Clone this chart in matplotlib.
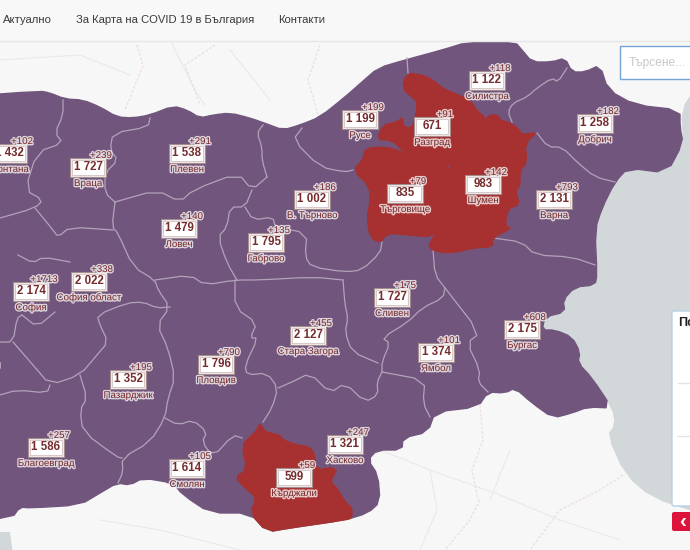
import matplotlib
matplotlib.use("Agg")
import matplotlib.pyplot as plt
from matplotlib.patches import Polygon, Rectangle, FancyBboxPatch
import matplotlib.patheffects as pe

plt.rcParams['font.family'] = ['Liberation Sans', 'DejaVu Sans']

# Province data
NAMES = ['Монтана', 'Враца', 'Плевен', 'Ловеч', 'Габрово', 'В. Търново', 'Русе', 'Силистра',
         'Разград', 'Добрич', 'Търговище', 'Шумен', 'Варна', 'Сливен', 'Бургас', 'Ямбол',
         'Стара Загора', 'Пловдив', 'Пазарджик', 'Благоевград', 'Смолян', 'Кърджали',
         'Хасково', 'София', 'София област']
TOTALS = [1432, 1727, 1538, 1479, 1795, 1002, 1199, 1122, 671, 1258, 835, 983, 2131, 1727,
          2175, 1374, 2127, 1796, 1352, 1586, 1614, 599, 1321, 2174, 2022]
NEW = [102, 239, 291, 140, 135, 186, 199, 118, 91, 182, 79, 142, 793, 175, 608, 101, 455,
       790, 195, 257, 105, 59, 247, 1713, 338]
LABEL_POS = [(9, 153), (88, 167), (187, 153), (179, 228), (266, 242), (312, 199), (360, 119),
             (487, 80), (432, 126), (595, 123), (405, 193), (483, 184), (554, 199), (392, 297),
             (522, 329), (436, 352), (308, 335), (216, 364), (128, 379), (46, 447), (187, 468),
             (294, 477), (345, 444), (31, 291), (89, 281)]

# Map geometry (screen pixels)
BULGARIA = [(-40, 97), (40, 91), (50, 93), (65, 99), (83, 100), (100, 107), (117, 117), (133, 118),
            (150, 115), (173, 106), (187, 110), (200, 118), (213, 115), (230, 113), (250, 118),
            (267, 124), (283, 130), (300, 125), (320, 117), (345, 97), (362, 82), (378, 68),
            (405, 60), (442, 50), (468, 42), (515, 42), (522, 50), (532, 62), (552, 62), (565, 58),
            (572, 72), (585, 72), (600, 65), (608, 90), (635, 105), (680, 110), (680, 127),
            (683, 143), (667, 173), (628, 168), (615, 182), (602, 208), (595, 230), (597, 275),
            (595, 285), (575, 287), (563, 300), (565, 312), (545, 317), (542, 330), (555, 330),
            (572, 337), (580, 352), (578, 363), (592, 378), (612, 408), (588, 407), (572, 413),
            (553, 418), (532, 403), (515, 388), (505, 393), (488, 392), (478, 407), (435, 412),
            (428, 432), (403, 438), (402, 450), (377, 450), (368, 460), (378, 475), (380, 502),
            (368, 513), (345, 520), (290, 528), (267, 532), (250, 513), (210, 513), (183, 495),
            (173, 483), (143, 478), (130, 485), (117, 483), (100, 493), (80, 505), (30, 508),
            (20, 507), (12, 518), (-40, 520)]
SEA = [(695, 88), (681, 110), (683, 143), (667, 173), (628, 168), (615, 182), (602, 208), (595, 230),
       (597, 275), (595, 285), (575, 287), (563, 300), (565, 312), (545, 317), (542, 330), (555, 330),
       (572, 337), (580, 352), (578, 363), (592, 378), (612, 408), (615, 425), (607, 435), (625, 475),
       (652, 498), (695, 512)]
SEA_SW = [(-5, 532), (10, 532), (13, 555), (-5, 555)]
RAZGRAD = [(407, 73), (422, 75), (433, 80), (442, 88), (458, 95), (470, 100), (478, 112), (485, 117),
           (485, 125), (462, 140), (458, 150), (450, 163), (438, 180), (422, 175), (418, 163), (405, 153),
           (392, 140), (377, 140), (383, 125), (397, 122), (403, 117), (403, 127), (413, 128), (418, 103),
           (413, 98), (402, 88)]
TARGOVISHTE = [(365, 148), (388, 147), (405, 153), (418, 163), (422, 175), (438, 180), (448, 167),
               (458, 168), (452, 187), (455, 200), (445, 213), (442, 227), (432, 237), (408, 235),
               (388, 233), (380, 243), (370, 237), (367, 217), (370, 203), (370, 187), (353, 170), (363, 160)]
SHUMEN = [(488, 115), (498, 115), (500, 120), (508, 122), (518, 128), (522, 135), (538, 132), (525, 143),
          (527, 163), (520, 170), (520, 187), (515, 190), (520, 205), (508, 208), (505, 227), (512, 228),
          (492, 238), (493, 247), (472, 248), (458, 252), (442, 253), (428, 248), (433, 237), (442, 227),
          (445, 213), (455, 200), (452, 187), (458, 168), (448, 167), (458, 150), (462, 140), (485, 125)]
KARDZHALI = [(260, 423), (265, 432), (280, 435), (283, 440), (297, 445), (310, 447), (315, 455), (315, 470),
             (338, 467), (330, 482), (337, 488), (345, 502), (352, 508), (352, 518), (345, 520), (290, 528),
             (267, 532), (250, 513), (257, 498), (245, 488), (235, 477), (247, 470), (242, 445), (250, 437),
             (257, 430)]
RED_REGIONS = [RAZGRAD, TARGOVISHTE, SHUMEN, KARDZHALI]
BORDERS = [
    [(63, 100), (63, 115), (55, 133), (63, 143), (37, 152), (25, 190), (43, 200), (35, 208), (0, 218)],
    [(150, 118), (148, 127), (113, 133), (110, 150), (118, 160), (105, 173), (105, 193), (115, 202)],
    [(35, 208), (53, 230), (58, 237), (70, 227), (113, 230)],
    [(115, 202), (157, 190), (180, 202), (193, 190), (238, 173), (252, 190), (267, 177)],
    [(267, 177), (262, 160), (262, 147), (257, 133), (263, 125)],
    [(115, 202), (112, 227), (118, 233), (133, 267), (155, 280), (158, 290), (170, 307), (157, 325),
     (168, 348), (175, 378), (168, 398), (165, 418), (150, 442), (122, 458), (123, 472), (118, 483)],
    [(155, 280), (190, 275), (205, 285), (235, 280), (260, 280), (313, 277), (343, 280)],
    [(252, 190), (245, 207), (230, 207), (227, 227), (218, 237), (227, 263), (237, 280)],
    [(245, 207), (253, 220), (273, 217), (275, 227), (307, 233), (305, 257), (312, 267), (345, 272),
     (362, 270), (380, 253), (382, 242)],
    [(235, 280), (235, 308), (257, 323), (250, 338), (258, 338), (245, 365), (247, 375), (267, 373),
     (278, 388), (272, 408), (263, 422)],
    [(278, 388), (292, 382), (310, 373), (330, 393), (345, 383), (365, 402), (378, 395), (377, 382), (382, 372)],
    [(382, 372), (425, 380), (423, 403), (430, 417)],
    [(488, 392), (478, 382), (480, 370), (467, 343), (480, 333), (445, 288), (435, 275), (433, 250)],
    [(382, 372), (382, 362), (390, 343), (382, 338), (408, 322), (422, 308), (443, 298), (445, 288)],
    [(343, 280), (345, 305), (348, 318), (345, 332), (352, 352), (378, 363)],
    [(353, 170), (345, 172), (320, 167), (293, 140), (302, 128)],
    [(407, 58), (408, 73)],
    [(567, 68), (558, 82), (552, 78), (537, 88), (527, 97), (513, 103), (508, 112), (512, 122)],
    [(537, 133), (548, 147), (562, 147), (578, 163), (595, 177), (615, 182)],
    [(493, 238), (522, 242), (535, 255), (572, 257), (595, 265)],
    [(18, 255), (33, 263), (43, 257), (70, 262)],
    [(22, 315), (37, 327), (55, 312)],
    [(13, 342), (33, 365), (50, 385), (80, 375), (97, 355), (108, 342), (100, 325), (97, 315), (127, 303),
     (143, 302), (157, 308), (170, 307)],
    [(80, 375), (87, 398), (80, 410), (83, 432), (117, 457), (122, 458)],
    [(0, 395), (17, 390), (47, 393), (50, 385)],
    [(165, 418), (178, 425), (193, 420), (207, 432), (202, 442), (213, 457), (233, 435), (242, 438)],
    [(0, 342), (13, 342), (17, 318), (22, 315)],
]
FRONTIERS = [[(137, 45), (143, 66), (125, 110)], [(215, 45), (185, 65), (200, 105)],
             [(320, 45), (308, 80), (318, 115)], [(480, 405), (483, 440), (472, 470), (478, 500)],
             [(623, 475), (600, 490), (560, 510), (530, 550)], [(480, 500), (470, 520), (445, 550)]]
ROADS = [[(170, 40), (195, 90), (205, 105)], [(0, 60), (80, 55), (130, 75)], [(230, 50), (270, 100)],
         [(380, 450), (430, 470), (500, 495), (560, 520), (620, 540)], [(430, 470), (437, 510), (420, 550)],
         [(100, 520), (160, 530), (240, 550)], [(510, 450), (490, 500)]]
NAV_ITEMS = ['Актуално', 'За Карта на COVID 19 в България', 'Контакти']
NAV_X = [3, 76, 278]


def round_corners(points, closed=False):
    """One pass of corner cutting, which gives the outlines their soft look."""
    pts = list(points) + ([points[0]] if closed else [])
    out = [] if closed else [pts[0]]
    for (x0, y0), (x1, y1) in zip(pts[:-1], pts[1:]):
        out.append((0.75 * x0 + 0.25 * x1, 0.75 * y0 + 0.25 * y1))
        out.append((0.25 * x0 + 0.75 * x1, 0.25 * y0 + 0.75 * y1))
    if not closed:
        out.append(pts[-1])
    return out


fig = plt.figure(figsize=(6.9, 5.5), dpi=100)
ax = fig.add_axes([0, 0, 1, 1])
ax.set_xlim(0, 690)
ax.set_ylim(550, 0)
ax.axis('off')
ax.add_patch(Rectangle((0, 0), 690, 550, fc='#f6f7f6', ec='none', zorder=0))
ax.add_patch(Polygon(round_corners(SEA), fc='#d2d7da', ec='none', zorder=1))
ax.add_patch(Polygon(SEA_SW, fc='#d2d7da', ec='none', zorder=1))
for r in ROADS:
    ax.plot(*zip(*r), color='#e8e9e8', lw=0.8, zorder=1)
for f in FRONTIERS:
    ax.plot(*zip(*f), color='#eedcde', lw=0.9, ls=(0, (2, 1.5)), zorder=1)

ax.add_patch(Polygon(round_corners(BULGARIA, closed=True), fc='#71557d', ec='#71557d', lw=1,
                     joinstyle='round', zorder=2))
for b in BORDERS:
    ax.plot(*zip(*round_corners(b)), color='#b3a3ba', lw=0.9, solid_joinstyle='round', zorder=3)
for region in RED_REGIONS:
    ax.add_patch(Polygon(round_corners(region, closed=True), fc='#a73130', ec='#a73130', lw=1,
                         joinstyle='round', zorder=4))

halo = [pe.withStroke(linewidth=2, foreground='#ffffff', alpha=0.75)]
TEXT_RED = '#762b2d'
for name, total, new, (x, y) in zip(NAMES, TOTALS, NEW, LABEL_POS):
    ax.add_patch(Rectangle((x - 18, y - 9.5), 36, 19, fc='#f3ecec', ec='#a58d8d', lw=0.8, zorder=5))
    ax.add_patch(Rectangle((x - 16, y - 7.5), 32, 15, fc='#ffffff', ec='#c9b6b6', lw=0.5, zorder=6))
    value = f'{total:,}'.replace(',', ' ')
    ax.text(x, y + 0.3, value, ha='center', va='center', fontsize=8.3, fontweight='bold',
            color=TEXT_RED, zorder=7)
    ax.text(x + 13, y - 12, f'+{new}', ha='center', va='center', fontsize=7, color=TEXT_RED,
            path_effects=halo, zorder=7)
    ax.text(x, y + 16, name, ha='center', va='center', fontsize=7, color=TEXT_RED,
            path_effects=halo, zorder=7)
ax.text(-25, 365, 'Кюстендил', ha='center', va='center', fontsize=7, color=TEXT_RED,
        path_effects=halo, clip_on=True, zorder=7)

# page chrome
ax.add_patch(Rectangle((0, 0), 690, 40.5, fc='#f8f8f8', ec='none', zorder=8))
ax.plot([0, 690], [40.5, 40.5], color='#e7e7e7', lw=1, zorder=8)
for label, x in zip(NAV_ITEMS, NAV_X):
    ax.text(x, 20, label, ha='left', va='center', fontsize=8.15, color='#3a3a3a', zorder=9)
ax.add_patch(Rectangle((620, 46), 75, 33, fc='#ffffff', ec='#74a5d3', lw=1, zorder=8))
ax.text(629, 63, 'Търсене...', ha='left', va='center', fontsize=8.6, color='#c8c8c8', zorder=9)
ax.add_patch(FancyBboxPatch((672, 311), 30, 195, boxstyle='round,pad=0,rounding_size=2',
                            fc='#ffffff', ec='#b5d2e8', lw=1, zorder=8))
ax.text(678, 323, 'По', ha='left', va='center', fontsize=9, fontweight='bold', color='#222222', zorder=9)
ax.plot([678, 690], [383, 383], color='#e4e4e4', lw=1, zorder=9)
ax.plot([678, 690], [436, 436], color='#e4e4e4', lw=1, zorder=9)
ax.add_patch(FancyBboxPatch((672, 512), 30, 19, boxstyle='round,pad=0,rounding_size=2',
                            fc='#dc143c', ec='none', zorder=8))
ax.text(683, 521, '‹', ha='center', va='center', fontsize=15, fontweight='bold', color='#ffffff', zorder=9)

fig.savefig('out.png', dpi=100)
